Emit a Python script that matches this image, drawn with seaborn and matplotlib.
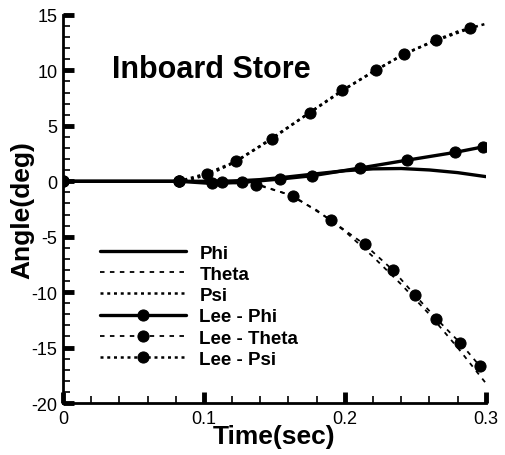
import numpy as np
import pandas as pd
import seaborn as sns
import matplotlib
matplotlib.use("Agg")
import matplotlib.pyplot as plt
from matplotlib.ticker import MultipleLocator

# ---- data ----
t_line = [0.0, 0.08, 0.09, 0.10, 0.11, 0.12, 0.13, 0.14, 0.16, 0.18, 0.20, 0.22, 0.24, 0.26, 0.28, 0.30]
phi = [0.0, 0.0, 0.0, 0.0, 0.0, 0.03, 0.08, 0.15, 0.4, 0.68, 0.95, 1.12, 1.15, 1.02, 0.78, 0.42]
theta = [0.0, 0.0, 0.0, 0.0, 0.0, -0.02, -0.12, -0.35, -1.2, -2.6, -4.5, -6.8, -9.3, -12.0, -15.0, -18.2]
psi = [0.0, 0.0, 0.15, 0.5, 1.0, 1.6, 2.4, 3.2, 4.9, 6.6, 8.3, 9.9, 11.3, 12.5, 13.5, 14.2]

lee_phi_t = [0.0, 0.082, 0.106, 0.127, 0.154, 0.177, 0.211, 0.244, 0.278, 0.298]
lee_phi = [0.0, 0.0, -0.2, -0.1, 0.2, 0.5, 1.2, 1.9, 2.6, 3.1]
lee_theta_t = [0.0, 0.082, 0.113, 0.137, 0.163, 0.190, 0.214, 0.234, 0.250, 0.265, 0.282, 0.296]
lee_theta = [0.0, 0.0, -0.1, -0.3, -1.3, -3.5, -5.7, -8.0, -10.3, -12.4, -14.6, -16.7]
lee_psi_t = [0.0, 0.082, 0.102, 0.123, 0.148, 0.175, 0.198, 0.222, 0.242, 0.265, 0.289]
lee_psi = [0.0, 0.0, 0.7, 1.8, 3.8, 6.2, 8.2, 10.0, 11.5, 12.7, 13.8]

labels = ["Phi", "Theta", "Psi", "Lee - Phi", "Lee - Theta", "Lee - Psi"]
title_text = "Inboard Store"

sns.set_style("ticks")
plt.rcParams["font.family"] = ["Liberation Sans", "DejaVu Sans"]
plt.rcParams["axes.unicode_minus"] = False
plt.rcParams["axes.edgecolor"] = "black"
plt.rcParams["xtick.color"] = "black"
plt.rcParams["ytick.color"] = "black"
plt.rcParams["text.color"] = "black"
plt.rcParams["axes.labelcolor"] = "black"

fig = plt.figure(figsize=(5.06, 4.56), dpi=100)
ax = fig.add_axes([0.1245, 0.114, 0.8355, 0.851])

k = dict(ax=ax, color="black", legend=False)
sns.lineplot(x=t_line, y=phi, linestyle="-", linewidth=2.4, **k)
sns.lineplot(x=t_line, y=theta, linestyle=(0, (2.5, 3)), linewidth=1.3, **k)
sns.lineplot(x=t_line, y=psi, linestyle=(0, (1.2, 1.5)), linewidth=1.8, **k)
sns.lineplot(x=lee_phi_t, y=lee_phi, linestyle="-", linewidth=2.4, marker="o",
             markersize=8, markeredgecolor="black", **k)
sns.lineplot(x=lee_theta_t, y=lee_theta, linestyle=(0, (2.5, 3)), linewidth=1.3, marker="o",
             markersize=8, markeredgecolor="black", **k)
sns.lineplot(x=lee_psi_t, y=lee_psi, linestyle=(0, (1.2, 1.5)), linewidth=1.8, marker="o",
             markersize=8, markeredgecolor="black", **k)

ax.set_xlim(0, 0.3)
ax.set_ylim(-20, 15)
ax.xaxis.set_minor_locator(MultipleLocator(0.02))
ax.yaxis.set_major_locator(MultipleLocator(5))
ax.yaxis.set_minor_locator(MultipleLocator(1))
ax.set_xticks([0, 0.1, 0.2, 0.3])
ax.set_xticklabels(["0", "0.1", "0.2", "0.3"])
ax.tick_params(which="major", direction="in", length=8, width=3.5, labelsize=13)
ax.tick_params(axis="x", which="major", pad=5)
ax.tick_params(axis="y", which="major", pad=4)
ax.tick_params(which="minor", direction="in", length=5, width=1.2)
sns.despine(ax=ax)
for s in ["left", "bottom"]:
    ax.spines[s].set_linewidth(2.0)

ax.set_xlabel("Time(sec)", fontsize=19, fontweight="bold", labelpad=-2)
ax.set_ylabel("Angle(deg)", fontsize=19, fontweight="bold", labelpad=-2)

ax.text(0.115, 0.862, title_text, transform=ax.transAxes, fontsize=22,
        fontweight="bold", ha="left", va="center")

leg = ax.legend(ax.get_lines(), labels, loc="upper left", bbox_to_anchor=(0.07, 0.428),
                frameon=False, handlelength=4.6, handletextpad=0.7, labelspacing=0.22,
                prop={"weight": "bold", "size": 13.5}, borderaxespad=0)

fig.savefig("out.png", dpi=100)
